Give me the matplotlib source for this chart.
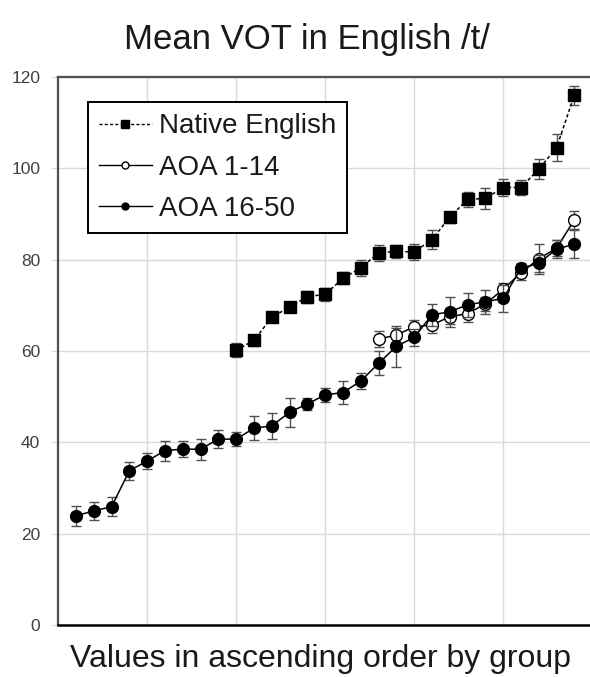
import numpy as np
from matplotlib import pyplot as plt
from matplotlib.lines import Line2D

plt.rcParams['font.family'] = ['Liberation Sans', 'DejaVu Sans']

# Native English speakers, positions 10..29
native_x = np.arange(10, 30)
native_y = [60.2, 62.3, 67.4, 69.6, 71.9, 72.4, 75.9, 78.2, 81.5, 81.8,
            81.7, 84.4, 89.3, 93.2, 93.4, 95.8, 95.8, 99.8, 104.5, 116.0]
native_err = [1.5, 1.3, 1.0, 1.0, 1.3, 1.5, 1.3, 1.7, 1.7, 1.5,
              1.8, 2.0, 1.2, 1.6, 2.4, 1.8, 1.7, 2.2, 3.0, 2.1]

# AOA 1-14, positions 18..29
early_x = np.arange(18, 30)
early_y = [62.6, 63.5, 65.3, 65.7, 67.5, 68.2, 70.3, 73.5, 77.1, 80.2, 82.5, 88.7]
early_err = [1.7, 1.5, 1.5, 1.7, 1.6, 1.75, 1.6, 1.5, 1.5, 3.3, 1.8, 2.0]

# AOA 16-50, positions 1..29
late_x = np.arange(1, 30)
late_y = [23.9, 25.0, 25.9, 33.8, 35.9, 38.2, 38.5, 38.5, 40.7, 40.7,
          43.1, 43.6, 46.6, 48.4, 50.4, 50.9, 53.4, 57.3, 61.0, 63.0,
          67.9, 68.6, 70.1, 70.8, 71.5, 78.1, 79.2, 82.3, 83.4]
late_err = [2.2, 2.0, 2.1, 2.0, 1.7, 2.2, 1.7, 2.3, 1.9, 1.6,
            2.6, 2.8, 3.2, 1.3, 1.6, 2.5, 1.8, 2.6, 4.4, 1.8,
            2.4, 3.3, 2.7, 2.6, 2.9, 1.1, 1.8, 2.0, 3.0]

fig = plt.figure(figsize=(5.9, 6.77), dpi=100)
ax = fig.add_axes([58.2 / 590, 52 / 677, 1 - 58.2 / 590, 548 / 677])

err_kw = dict(ecolor='#505050', elinewidth=1.0, capsize=3.6, capthick=1.0)
dash = (0, (2.2, 1.6))

ax.errorbar(native_x, native_y, yerr=native_err, color='black',
            linestyle=dash, linewidth=1.1, marker='s', markersize=8.5,
            markerfacecolor='black', markeredgecolor='black', zorder=3, **err_kw)
ax.errorbar(early_x, early_y, yerr=early_err, color='black',
            linestyle='-', linewidth=1.1, marker='o', markersize=8.5,
            markerfacecolor='white', markeredgecolor='black',
            markeredgewidth=1.0, zorder=3, **err_kw)
ax.errorbar(late_x, late_y, yerr=late_err, color='black',
            linestyle='-', linewidth=1.1, marker='o', markersize=8.5,
            markerfacecolor='black', markeredgecolor='black', zorder=4, **err_kw)

ax.set_xlim(0, 29.88)
ax.set_ylim(0, 120)
ax.set_xticks([5, 10, 15, 20, 25])
ax.set_yticks(range(0, 121, 20))
ax.tick_params(axis='x', length=0, labelbottom=False)
ax.tick_params(axis='y', length=5, color='#d9d9d9', pad=8,
               labelsize=12.5, labelcolor='#404040')
ax.grid(True, color='#d9d9d9', linewidth=1.0)
ax.set_axisbelow(True)

for side in ['left', 'top']:
    ax.spines[side].set_color('#505050')
    ax.spines[side].set_linewidth(1.6)
ax.spines['bottom'].set_color('black')
ax.spines['bottom'].set_linewidth(1.8)
ax.spines['right'].set_visible(False)

# legend shows line + small marker only
handles = [
    Line2D([], [], color='black', linestyle=dash, linewidth=1.0, marker='s',
           markersize=5.5, markerfacecolor='black'),
    Line2D([], [], color='black', linestyle='-', linewidth=1.0, marker='o',
           markersize=5, markerfacecolor='white', markeredgecolor='black'),
    Line2D([], [], color='black', linestyle='-', linewidth=1.0, marker='o',
           markersize=5, markerfacecolor='black'),
]
leg = ax.legend(handles, ['Native English', 'AOA 1-14', 'AOA 16-50'],
                loc='upper left', bbox_to_anchor=(0.056, 0.954),
                borderaxespad=0, fontsize=20, frameon=True, fancybox=False,
                edgecolor='black', framealpha=1, handlelength=1.9,
                handletextpad=0.25, labelspacing=0.55, borderpad=0.4)
leg.get_frame().set_linewidth(1.4)
for t in leg.get_texts():
    t.set_color('#1a1a1a')

fig.text(307 / 590, 1 - 40 / 677, 'Mean VOT in English /t/', ha='center',
         va='center', fontsize=25, color='#1a1a1a')
fig.text(320 / 590, 1 - 659 / 677, 'Values in ascending order by group',
         ha='center', va='center', fontsize=23, color='#1a1a1a')

fig.savefig('out.png', dpi=100)
